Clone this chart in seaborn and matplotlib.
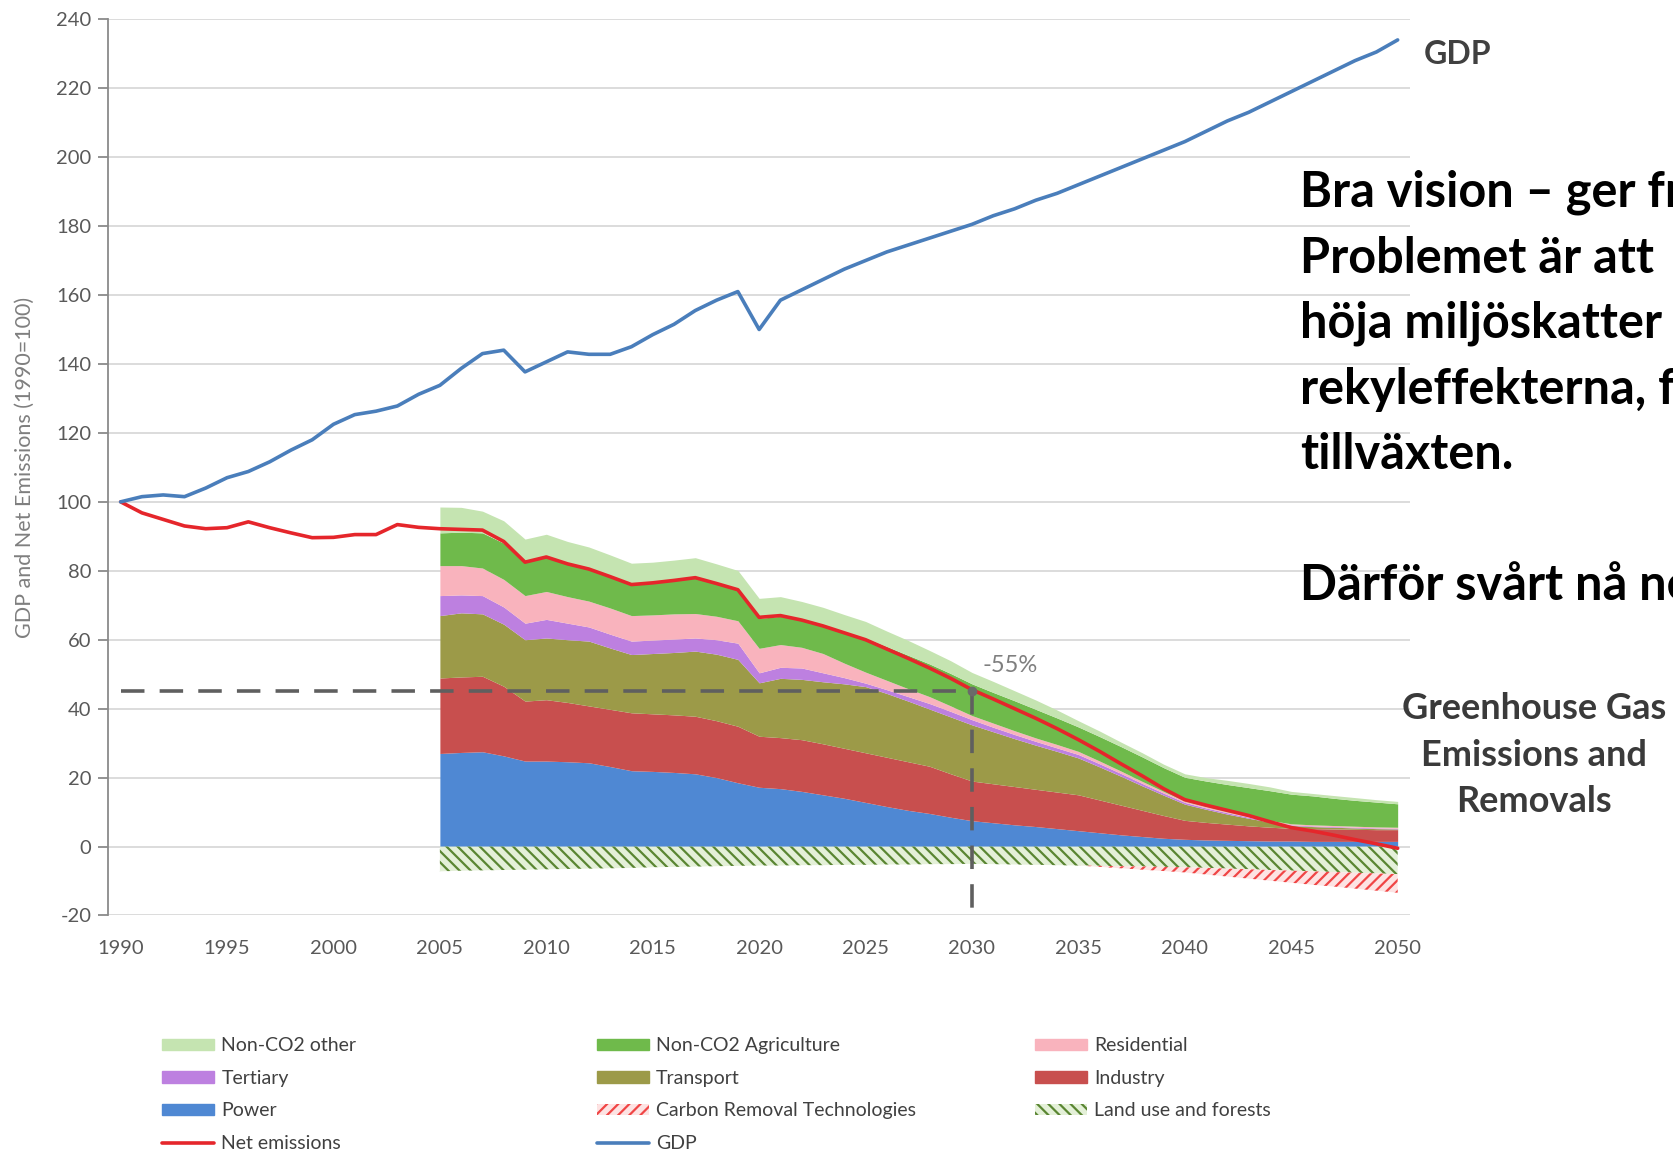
import numpy as np
import pandas as pd
import matplotlib
matplotlib.use("Agg")
import matplotlib.pyplot as plt
import seaborn as sns
from matplotlib.patches import Patch
from matplotlib.lines import Line2D

# ---- data ----
years = list(range(1990, 2051))
gdp = [100, 101.5, 102, 101.5, 104, 107, 108.8, 111.6, 115, 118,
       122.5, 125.3, 126.3, 127.8, 131.2, 133.8, 138.7, 143, 144, 137.7,
       140.6, 143.5, 142.8, 142.8, 145, 148.5, 151.5, 155.5, 158.5, 161,
       150, 158.5, 161.5, 164.5, 167.5, 170, 172.5, 174.5, 176.5, 178.5,
       180.5, 183, 185, 187.5, 189.5, 192, 194.5, 197, 199.5, 202,
       204.5, 207.5, 210.5, 213, 216, 219, 222, 225, 228, 230.5, 234]
net_emissions = [100, 96.8, 94.9, 93, 92.2, 92.5, 94.2, 92.5, 91, 89.6,
                 89.7, 90.5, 90.5, 93.4, 92.6, 92.2, 92, 91.8, 88.5, 82.5,
                 84, 82, 80.5, 78.3, 76, 76.5, 77.2, 78, 76.3, 74.5,
                 66.5, 67, 65.7, 64, 62, 60, 57.3, 54.6, 51.8, 48.8,
                 45.5, 42.8, 40, 37.2, 34.2, 31, 27.6, 24, 20.5, 16.8,
                 13.6, 12, 10.5, 9, 7.2, 5.5, 4.5, 3.3, 2, 0.8, -0.5]

stack_years = list(range(2005, 2051))
# cumulative tops of each sector, bottom to top
power_top = [27, 27.3, 27.5, 26.3, 24.8, 24.8, 24.6, 24.3, 23.2, 22,
             21.8, 21.5, 21.1, 20, 18.5, 17.2, 16.8, 16, 15, 14,
             12.8, 11.6, 10.5, 9.6, 8.5, 7.5, 6.9, 6.3, 5.8, 5.2,
             4.6, 4, 3.4, 2.9, 2.4, 2.1, 1.9, 1.8, 1.7, 1.6,
             1.6, 1.5, 1.5, 1.5, 1.5, 1.5]
industry_top = [48.9, 49.2, 49.4, 46.5, 42.2, 42.6, 41.8, 40.8, 39.8, 38.8,
                38.5, 38.2, 37.8, 36.5, 34.9, 32, 31.6, 31, 29.8, 28.5,
                27.2, 25.9, 24.6, 23.3, 21.1, 19, 18.2, 17.4, 16.6, 15.8,
                15, 13.5, 12, 10.5, 9, 7.6, 7, 6.5, 6, 5.6,
                5.3, 5.2, 5.1, 5, 4.9, 4.9]
transport_top = [67, 67.8, 67.5, 64.5, 60, 60.5, 60, 59.6, 57.6, 55.7,
                 56, 56.3, 56.7, 55.8, 54.3, 47.5, 48.8, 48.5, 47.8, 47.2,
                 46.4, 44.4, 42.2, 39.9, 37.6, 35.3, 33.3, 31.3, 29.4, 27.6,
                 25.7, 23.1, 20.4, 17.6, 14.9, 12.3, 10.8, 9.4, 8.2, 7.1,
                 6.1, 5.8, 5.6, 5.4, 5.2, 5.1]
tertiary_top = [72.8, 73, 72.8, 69.5, 64.8, 65.9, 64.8, 63.7, 61.6, 59.6,
                59.9, 60.2, 60.5, 60, 59, 50.4, 52, 51.8, 50.4, 49,
                47.4, 45.5, 43.5, 41.5, 39.2, 36.8, 34.6, 32.5, 30.5, 28.6,
                26.7, 24, 21.2, 18.3, 15.5, 12.8, 11.2, 9.8, 8.5, 7.3,
                6.3, 6, 5.8, 5.6, 5.4, 5.3]
residential_top = [81.5, 81.5, 80.8, 77.5, 72.8, 74, 72.5, 71.2, 69.2, 67,
                   67.2, 67.5, 67.6, 66.8, 65.5, 57.5, 58.6, 57.8, 56, 53.2,
                   50.6, 48.2, 45.8, 43.5, 40.8, 38, 35.8, 33.6, 31.5, 29.6,
                   27.6, 24.8, 21.9, 18.9, 16, 13.2, 11.6, 10.1, 8.8, 7.6,
                   6.6, 6.3, 6.1, 5.9, 5.7, 5.6]
agriculture_top = [91, 91.2, 91, 88, 82.5, 84, 82.3, 80.8, 78.6, 76.4,
                   76.8, 77.4, 78, 76.4, 74.6, 66.2, 66.8, 65.6, 64, 62.2,
                   60.5, 58, 55.5, 53, 50.2, 47.2, 44.7, 42.3, 39.8, 37.3,
                   34.7, 31.9, 29, 26, 22.9, 20.1, 19, 18, 17.1, 16.2,
                   15.2, 14.7, 14, 13.4, 12.9, 12.4]
other_top = [98.5, 98.4, 97.3, 94.5, 89.2, 90.6, 88.5, 86.9, 84.6, 82.2,
             82.5, 83.1, 83.8, 82, 80.1, 72, 72.5, 71.1, 69.4, 67.3,
             65.3, 62.5, 59.8, 56.9, 53.9, 50.5, 47.9, 45.2, 42.5, 39.6,
             36.5, 33.5, 30.3, 27.2, 23.9, 21.1, 20, 19.2, 18.3, 17.3,
             16, 15.4, 14.8, 14.2, 13.6, 13.1]
land_use = [-7.2, -7, -6.9, -6.8, -6.7, -6.6, -6.5, -6.4, -6.3, -6.2,
            -6, -5.9, -5.8, -5.7, -5.6, -5.5, -5.5, -5.4, -5.4, -5.3,
            -5.3, -5.2, -5.2, -5.1, -5.1, -5, -5.1, -5.2, -5.3, -5.4,
            -5.5, -5.6, -5.7, -5.8, -5.9, -6, -6.2, -6.4, -6.6, -6.8,
            -7, -7.2, -7.4, -7.6, -7.8, -8]
carbon_removal = [0, 0, 0, 0, 0, 0, 0, 0, 0, 0,
                  0, 0, 0, 0, 0, 0, 0, 0, 0, 0,
                  0, 0, 0, 0, 0, 0, 0, 0, 0, 0,
                  0, -0.3, -0.6, -0.9, -1.2, -1.5, -1.9, -2.3, -2.7, -3.1,
                  -3.5, -3.9, -4.2, -4.6, -5, -5.4]

sector_names = ["Power", "Industry", "Transport", "Tertiary", "Residential",
                "Non-CO2 Agriculture", "Non-CO2 other"]
sector_tops = [power_top, industry_top, transport_top, tertiary_top,
               residential_top, agriculture_top, other_top]
sector_colors = ["#4f88d3", "#c84f4e", "#9c9a48", "#bd80e0", "#f9b3bd",
                 "#6fba4b", "#c5e4b1"]

target_year, target_value = 2030, 45

sns.set_theme(style="white")
plt.rcParams["font.family"] = ["Lato", "DejaVu Sans"]
plt.rcParams["hatch.linewidth"] = 1.6
plt.rcParams["axes.unicode_minus"] = False

fig = plt.figure(figsize=(16.73, 11.52), dpi=100)
ax = fig.add_axes([0.0646, 0.2053, 0.7782, 0.778])

# stacked sectors
lower = [0] * len(stack_years)
for name, top, col in zip(sector_names, sector_tops, sector_colors):
    ax.fill_between(stack_years, lower, top, color=col, linewidth=0, zorder=2)
    lower = top

# removals below zero
ax.fill_between(stack_years, 0, land_use, facecolor="#e4f0d8",
                edgecolor="#5a8632", hatch="\\\\\\", linewidth=0, zorder=2)
removal_bottom = [a + b for a, b in zip(land_use, carbon_removal)]
ax.fill_between(stack_years, land_use, removal_bottom, facecolor="#fde3e3",
                edgecolor="#f04545", hatch="///", linewidth=0, zorder=2)

# target lines
ax.plot([1990, target_year], [target_value, target_value], color="#5f5f5f",
        lw=2.6, ls=(0, (6.5, 4.2)), zorder=3)
ax.plot([target_year, target_year], [target_value, -20], color="#5f5f5f",
        lw=2.6, ls=(0, (6.5, 4.2)), zorder=3)
ax.plot([target_year], [target_value], "o", color="#6a6a6a", ms=6, zorder=5)

df = pd.DataFrame({"year": years, "gdp": gdp, "net": net_emissions})
sns.lineplot(data=df, x="year", y="net", color="#e5262b", lw=2.6, ax=ax, zorder=4)
sns.lineplot(data=df, x="year", y="gdp", color="#4a7ebb", lw=2.6, ax=ax, zorder=4)

ax.set_xlim(1989.41, 2050.58)
ax.set_ylim(-20, 240)
ax.set_xticks(range(1990, 2051, 5))
ax.set_yticks(range(-20, 241, 20))
ax.yaxis.grid(True, color="#d9d9d9", lw=1.3)
ax.xaxis.grid(False)
ax.set_axisbelow(True)
for s in ["top", "right", "bottom"]:
    ax.spines[s].set_visible(False)
ax.spines["left"].set_color("#8a8a8a")
ax.spines["left"].set_linewidth(1.3)
ax.tick_params(axis="y", left=True, length=7, width=1.3, color="#8a8a8a",
               labelsize=14.5, labelcolor="#595959", pad=5)
ax.tick_params(axis="x", bottom=False, labelsize=14.5, labelcolor="#595959", pad=12)
ax.set_xlabel("")
ax.set_ylabel("GDP and Net Emissions (1990=100)", fontsize=15.5, color="#7f7f7f",
              labelpad=15)

ax.text(target_year + 1.8, target_value + 7.5, "-55%", fontsize=17,
        color="#7f7f7f", ha="center", va="center")

# right side texts
fig.text(0.851, 0.953, "GDP", fontsize=23, fontweight="bold", color="#404040",
         ha="left", va="center")
fig.text(0.917, 0.3445, "Greenhouse Gas\nEmissions and\nRemovals", fontsize=26,
         fontweight="bold", color="#3a3a3a", ha="center", va="center",
         linespacing=1.5)
fig.text(0.777, 0.6625,
         "Bra vision – ger fr\nProblemet är att\nhöja miljöskatter\n"
         "rekyleffekterna, f\ntillväxten.\n\nDärför svårt nå ne",
         fontsize=35, fontweight="bold", color="black", ha="left", va="center",
         linespacing=1.55)

# legend in three columns
handles = {
    "Non-CO2 other": Patch(color=sector_colors[6]),
    "Non-CO2 Agriculture": Patch(color=sector_colors[5]),
    "Residential": Patch(color=sector_colors[4]),
    "Tertiary": Patch(color=sector_colors[3]),
    "Transport": Patch(color=sector_colors[2]),
    "Industry": Patch(color=sector_colors[1]),
    "Power": Patch(color=sector_colors[0]),
    "Carbon Removal Technologies": Patch(facecolor="#fde3e3", edgecolor="#f04545",
                                         hatch="///", linewidth=0),
    "Land use and forests": Patch(facecolor="#e4f0d8", edgecolor="#5a8632",
                                  hatch="\\\\\\", linewidth=0),
    "Net emissions": Line2D([], [], color="#e5262b", lw=2.6),
    "GDP": Line2D([], [], color="#4a7ebb", lw=2.6),
}
columns = [["Non-CO2 other", "Tertiary", "Power", "Net emissions"],
           ["Non-CO2 Agriculture", "Transport", "Carbon Removal Technologies", "GDP"],
           ["Residential", "Industry", "Land use and forests"]]
col_x = [0.0968, 0.3568, 0.6186]
for cx, labels in zip(col_x, columns):
    fig.legend([handles[l] for l in labels], labels, loc="upper left",
               bbox_to_anchor=(cx, 0.0995), frameon=False, fontsize=14,
               handlelength=2.7, handleheight=0.55, handletextpad=0.35,
               labelspacing=0.8, borderpad=0, borderaxespad=0,
               labelcolor="#404040")

fig.savefig("out.png", dpi=100)
